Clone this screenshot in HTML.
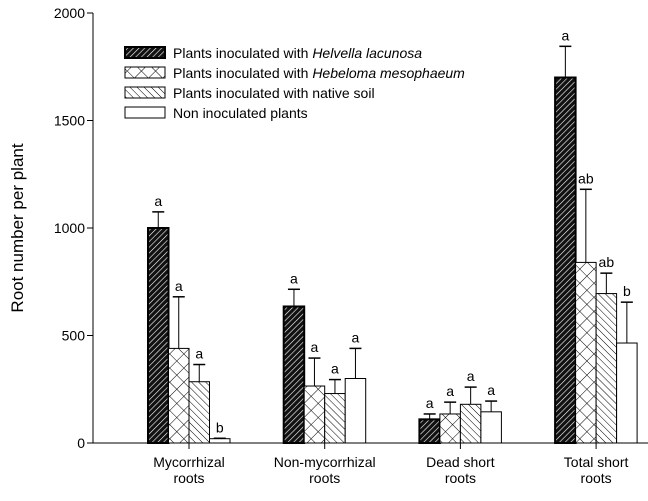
<!DOCTYPE html>
<html><head><meta charset="utf-8"><style>
body{margin:0;background:#fff;font-family:"Liberation Sans",sans-serif}
</style></head><body>
<svg id="c" width="648" height="496" xmlns="http://www.w3.org/2000/svg" font-family="Liberation Sans, sans-serif">
<defs>
<pattern id="p0" width="4" height="4" patternUnits="userSpaceOnUse" patternTransform="rotate(45)"><rect width="4" height="4" fill="#111"/><line x1="0" y1="0" x2="0" y2="4" stroke="#fff" stroke-width="1.2"/></pattern>
<pattern id="p1" width="10" height="10" patternUnits="userSpaceOnUse" patternTransform="rotate(45)"><rect width="10" height="10" fill="#fff"/><line x1="0" y1="0" x2="0" y2="10" stroke="#000" stroke-width="1"/><line x1="0" y1="0" x2="10" y2="0" stroke="#000" stroke-width="1"/></pattern>
<pattern id="p2" width="5" height="5" patternUnits="userSpaceOnUse" patternTransform="rotate(-45)"><rect width="5" height="5" fill="#fff"/><line x1="0" y1="0" x2="0" y2="5" stroke="#000" stroke-width="1"/></pattern>
</defs>
<g id="g"></g>
</svg>
<script>
const categories=[["Mycorrhizal","roots"],["Non-mycorrhizal","roots"],["Dead short","roots"],["Total short","roots"]];
const helvella=[1000,635,110,1700];
const helvellaErr=[75,80,25,145];
const hebeloma=[440,265,135,840];
const hebelomaErr=[240,130,55,340];
const nativeSoil=[285,230,180,695];
const nativeSoilErr=[80,65,80,95];
const nonInoc=[20,300,145,465];
const nonInocErr=[2,140,50,190];
const letters=[["a","a","a","b"],["a","a","a","a"],["a","a","a","a"],["a","ab","ab","b"]];
const yTicks=[0,500,1000,1500,2000];
const legendLabels=[["Plants inoculated with ","Helvella lacunosa"],["Plants inoculated with ","Hebeloma mesophaeum"],["Plants inoculated with native soil",""],["Non inoculated plants",""]];
const NS="http://www.w3.org/2000/svg";
const g=document.getElementById('g');
const y0=443,yTop=13,xL=93;
const y=v=>y0-(v/2000)*(y0-yTop);
const cx=i=>189+i*135.7;
const bw=20.5;
function mk(t,a,p){const e=document.createElementNS(NS,t);for(const k in a)e.setAttribute(k,a[k]);(p||g).appendChild(e);return e;}
let e=mk('line',{x1:xL,y1:yTop,x2:xL,y2:y0,stroke:'#000'});


e=mk('line',{x1:xL,y1:y0,x2:648,y2:y0,stroke:'#000'});


yTicks.forEach(v=>{
  mk('line',{x1:xL-6,x2:xL,y1:y(v),y2:y(v),stroke:'#000'});
  const t=mk('text',{x:xL-8,y:y(v)+5,'text-anchor':'end','font-size':14});
  t.textContent=v;
  
  
});
e=mk('text',{x:23,y:228,'text-anchor':'middle','font-size':17,transform:'rotate(-90 23 228)'});
e.textContent='Root number per plant';


const series=[[helvella,helvellaErr,'url(#p0)'],[hebeloma,hebelomaErr,'url(#p1)'],[nativeSoil,nativeSoilErr,'url(#p2)'],[nonInoc,nonInocErr,'#fff']];
categories.forEach((c,i)=>{
  mk('line',{x1:cx(i),x2:cx(i),y1:y0,y2:y0+6,stroke:'#000'});
  c.forEach((s,j)=>{const t=mk('text',{x:cx(i),y:467+j*16,'text-anchor':'middle','font-size':14});t.textContent=s;
  
  });
  series.forEach((s,k)=>{
    const v=s[0][i],er=s[1][i];
    const x=cx(i)-2*bw+k*bw;
    const et=y(v+er);
    mk('line',{x1:x+bw/2,x2:x+bw/2,y1:y(v),y2:et,stroke:'#000'});
    mk('line',{x1:x+bw/2-6,x2:x+bw/2+6,y1:et,y2:et,stroke:'#000','stroke-width':1.5});
    const r=mk('rect',{x:x,y:y(v),width:bw,height:y0-y(v),fill:s[2],stroke:'#000','stroke-width':k==0?2:1});
    
    
    const t=mk('text',{x:x+bw/2,y:et-6,'text-anchor':'middle','font-size':14});
    t.textContent=letters[i][k];
    
    
  });
});
const fills=['url(#p0)','url(#p1)','url(#p2)','#fff'];
legendLabels.forEach((l,k)=>{
  const ly=47+k*20;
  const r=mk('rect',{x:125,y:ly,width:40,height:11,fill:fills[k],stroke:'#000','stroke-width':k==0?2:1});
  
  
  const t=mk('text',{x:173,y:ly+11,'font-size':14});
  
  
  const a=mk('tspan',{},t);a.textContent=l[0];
  if(l[1]){const b=mk('tspan',{'font-style':'italic'},t);b.textContent=l[1];}
});
</script>
</body></html>
